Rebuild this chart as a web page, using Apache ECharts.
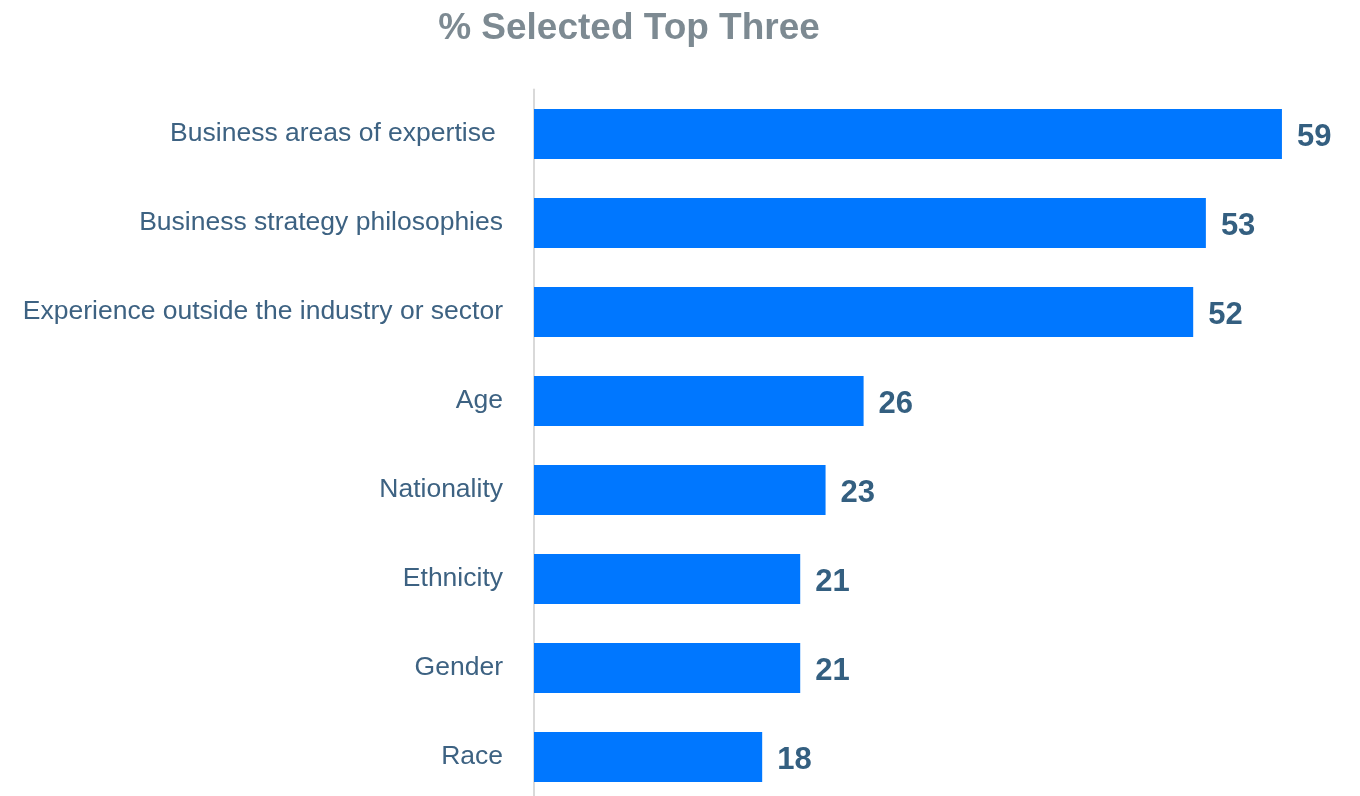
<!DOCTYPE html>
<html>
<head>
<meta charset="utf-8">
<script src="https://cdn.jsdelivr.net/npm/echarts@6/dist/echarts.min.js"></script>
<style>
  html, body { margin: 0; padding: 0; background: #ffffff; }
  #chart { width: 1360px; height: 796px; }
</style>
</head>
<body>
<div id="chart"></div>
<script>
// Categories listed top to bottom
const categories = [
  'Business areas of expertise ',
  'Business strategy philosophies',
  'Experience outside the industry or sector',
  'Age',
  'Nationality',
  'Ethnicity',
  'Gender',
  'Race'
];
// Percent who selected each item among their top three
const values = [59, 53, 52, 26, 23, 21, 21, 18];

const chart = echarts.init(document.getElementById('chart'));
chart.setOption({
  backgroundColor: '#ffffff',
  animation: false,
  title: {
    text: '% Selected Top Three',
    left: 624,
    textAlign: 'center',
    top: 5,
    textStyle: {
      fontFamily: 'Liberation Sans',
      fontSize: 37,
      fontWeight: 'bold',
      color: '#7d8a92'
    }
  },
  grid: { left: 534, top: 89.5, width: 824, height: 712, outerBoundsMode: 'none', containLabel: false },
  xAxis: {
    type: 'value',
    min: 0,
    max: 65,
    show: false
  },
  yAxis: {
    type: 'category',
    data: categories,
    inverse: true,
    axisLine: { show: true, lineStyle: { color: '#d9d9d9', width: 2 } },
    axisTick: { show: false },
    axisLabel: {
      margin: 31,
      fontFamily: 'Liberation Sans',
      fontSize: 26.5,
      color: '#3d6282',
      padding: [3, 0, 0, 0]
    }
  },
  series: [{
    type: 'bar',
    data: values,
    barWidth: 50,
    itemStyle: { color: '#0077ff' },
    label: {
      show: true,
      position: 'right',
      distance: 15,
      offset: [0, 3],
      fontFamily: 'Liberation Sans',
      fontSize: 31,
      fontWeight: 'bold',
      color: '#345f80'
    }
  }]
});
</script>
</body>
</html>
